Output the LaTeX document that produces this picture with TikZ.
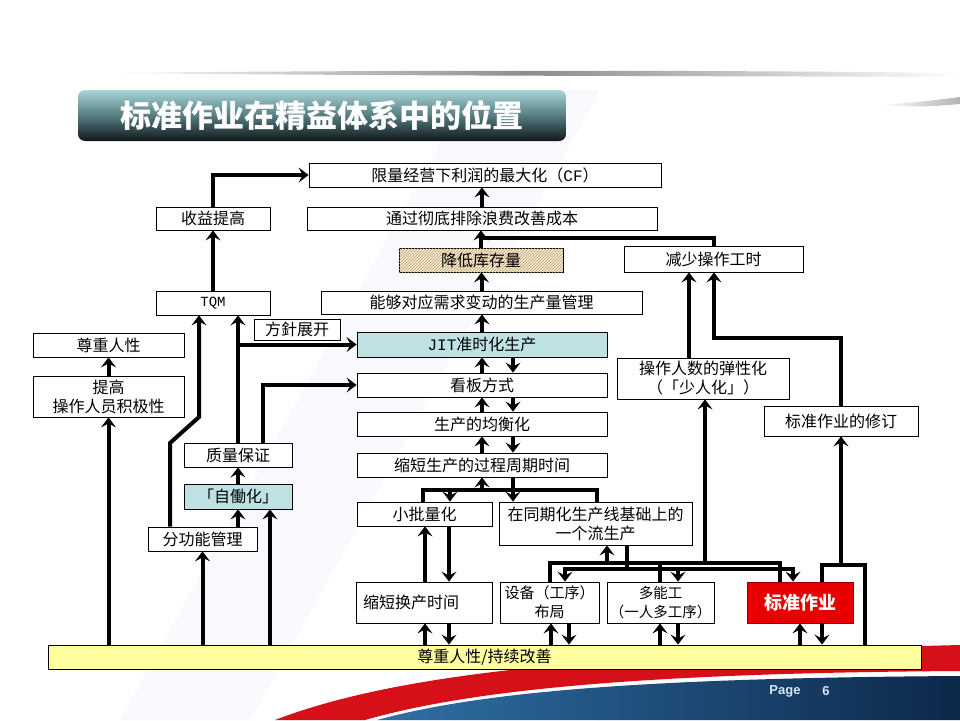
\documentclass[tikz,border=0pt]{standalone}
\usepackage{fontspec}
\setmainfont{Noto Sans CJK SC}
\newfontfamily\latinmono{Liberation Mono}
\newfontfamily\pagefont{Liberation Sans}
\usepackage{xcolor}
\usetikzlibrary{arrows.meta,patterns}
\definecolor{jitblue}{RGB}{190,226,228}
\definecolor{stockbg}{RGB}{246,236,212}
\definecolor{stockline}{RGB}{185,155,105}
\definecolor{stdred}{RGB}{232,0,0}
\definecolor{baseyellow}{RGB}{255,255,160}
\definecolor{titletop}{RGB}{168,214,218}
\definecolor{titlemid}{RGB}{86,124,128}
\definecolor{titlebot}{RGB}{16,24,26}
\definecolor{swooshred}{RGB}{214,16,24}
\definecolor{navyleft}{RGB}{48,112,166}
\definecolor{navyright}{RGB}{12,40,74}
\definecolor{pagefg}{RGB}{215,230,242}
\definecolor{bgtint}{RGB}{249,248,253}

\begin{document}
\begin{tikzpicture}[x=1pt, y=-1pt,
    box/.style={draw, rectangle, inner sep=0pt, line width=0.8pt, fill=white, align=center, font=\fontsize{16}{19}\selectfont},
    link/.style={line width=4pt},
    arr/.style={link, -{Stealth[length=10pt, width=15pt, inset=4pt]}}]
        % slide background
        \fill [white] (0, 0) rectangle (960, 720);
        \useasboundingbox (0, 0) rectangle (960, 720);
        \fill [bgtint] (120, 720) -- (250, 720) -- (600, 90) -- (470, 90) -- cycle;
        \shade [left color=white, right color=white, middle color=black!45] (100, 73) .. controls (400, 70) and (700, 70) .. (960, 73) -- (960, 77) .. controls (700, 76) and (400, 76) .. (100, 73) -- cycle;
        \shade [left color=white, right color=black!30] (880, 105) .. controls (920, 102) .. (960, 97) -- (960, 104) .. controls (925, 107) .. (880, 105) -- cycle;
        \fill [swooshred] (275, 720) .. controls (400, 672) and (600, 654) .. (960, 645) -- (960, 671) .. controls (640, 673) and (470, 690) .. (365, 720) -- cycle;
        \shade [left color=navyleft, right color=navyright] (377, 720) .. controls (480, 692) and (640, 678) .. (960, 676) -- (960, 720) -- cycle;
        \node (page) at (785, 691) [text=pagefg, font=\pagefont\bfseries\fontsize{13}{15}\selectfont] {Page};
        \node (pnum) at (826, 691) [text=pagefg, font=\pagefont\bfseries\fontsize{13}{15}\selectfont] {6};

        % title
        \node (title) at (322, 115.5) [rounded corners=7pt, top color=titletop, bottom color=titlebot, middle color=titlemid, minimum width=488pt, minimum height=51pt, text=white, font=\bfseries\fontsize{31}{34}\selectfont] {标准作业在精益体系中的位置};

        % boxes
        \node (profit) at (485, 175) [box, minimum width=352pt, minimum height=24pt] {限量经营下利润的最大化（{\latinmono CF}）};
        \node (gain) at (213, 218.5) [box, minimum width=114pt, minimum height=23pt] {收益提高};
        \node (cost) at (482, 218.5) [box, minimum width=350pt, minimum height=23pt] {通过彻底排除浪费改善成本};
        \node (stock) at (481, 260) [box, fill=stockbg, postaction={pattern=north east lines, pattern color=stockline}, minimum width=164pt, minimum height=24pt] {降低库存量};
        \node (hours) at (713.5, 259) [box, minimum width=179pt, minimum height=26pt] {减少操作工时};
        \node (tqm) at (213, 303) [box, minimum width=114pt, minimum height=24pt] {{\latinmono\fontsize{14}{16}\selectfont TQM}};
        \node (demand) at (481.5, 302.5) [box, minimum width=321pt, minimum height=23pt] {能够对应需求变动的生产量管理};
        \node (policy) at (297, 329.5) [box, minimum width=86pt, minimum height=21pt] {方針展开};
        \node (respect) at (108.5, 345) [box, minimum width=151pt, minimum height=24pt] {尊重人性};
        \node (jit) at (482, 344.5) [box, fill=jitblue, minimum width=250pt, minimum height=25pt] {{\latinmono JIT}准时化生产};
        \node (motivate) at (108.5, 396.5) [box, minimum width=151pt, minimum height=41pt] {提高\\操作人员积极性};
        \node (kanban) at (482, 385) [box, minimum width=250pt, minimum height=24pt] {看板方式};
        \node (flex) at (703, 378.5) [box, minimum width=172pt, minimum height=41pt] {操作人数的弹性化\\（「少人化」）};
        \node (level) at (482, 424) [box, minimum width=250pt, minimum height=24pt] {生产的均衡化};
        \node (revise) at (841, 421) [box, minimum width=154pt, minimum height=30pt] {标准作业的修订};
        \node (quality) at (238, 455) [box, minimum width=108pt, minimum height=24pt] {质量保证};
        \node (lead) at (482, 465) [box, minimum width=250pt, minimum height=24pt] {缩短生产的过程周期时间};
        \node (jido) at (238, 496.5) [box, fill=jitblue, minimum width=108pt, minimum height=25pt] {「自働化」};
        \node (lot) at (424.5, 514) [box, minimum width=135pt, minimum height=24pt] {小批量化};
        \node (flow) at (595.5, 523.5) [box, minimum width=193pt, minimum height=43pt] {在同期化生产线基础上的\\一个流生产};
        \node (func) at (202.5, 539) [box, minimum width=109pt, minimum height=24pt] {分功能管理};
        \node (change) at (424, 602.5) [box, minimum width=136pt, minimum height=41pt, text width=122pt, inner xsep=7pt, align=left] {缩短换产时间};
        \node (layout) at (549.5, 602.5) [box, minimum width=99pt, minimum height=41pt, font=\fontsize{15}{19}\selectfont] {设备（工序）\\布局};
        \node (multi) at (660.5, 602.5) [box, minimum width=107pt, minimum height=41pt, font=\fontsize{14.5}{19}\selectfont] {多能工\\（一人多工序）};
        \node (std) at (800, 602.5) [box, fill=stdred, draw=red!55!black, minimum width=106pt, minimum height=41pt, text=white, font=\bfseries\fontsize{18}{20}\selectfont] {标准作业};
        \node (base) at (484.5, 657) [box, fill=baseyellow, minimum width=873pt, minimum height=24pt] {尊重人性/持续改善};

        % upper part
        \draw [arr] (gain.north) |- (profit.west);
        \draw [arr] (cost.north) -- (cost.north |- profit.south);
        \coordinate (hoursjoin) at (482, 238);
        \draw [link] (hours.north) |- (hoursjoin);
        \draw [arr] (stock.north) -- (stock.north |- cost.south);
        \draw [arr] (demand.north) -- (demand.north |- stock.south);
        \draw [arr] (jit.north) -- (jit.north |- demand.south);
        \draw [arr] (tqm.north) -- (gain.south);

        % left part
        \coordinate (bendlow) at (170, 443);
        \coordinate (bendhigh) at (199, 417);
        \draw [arr] (func.north -| bendlow) -- (bendlow) -- (bendhigh) -- (bendhigh |- tqm.south);
        \draw [arr] (quality.north) -- (quality.north |- tqm.south);
        \draw [arr] (quality.north |- jit.west) -- (jit.west);
        \coordinate (qkanban) at (263, 455);
        \draw [arr] (quality.north -| qkanban) |- (kanban.west);
        \draw [arr] (jido.north) -- (quality.south);
        \draw [arr] (func.north -| jido.south) -- (jido.south);
        \coordinate (basejido) at (270, 600);
        \draw [arr] (base.north -| basejido) -- (jido.south -| basejido);
        \draw [arr] (base.north -| func.south) -- (func.south);
        \draw [arr] (base.north -| motivate.south) -- (motivate.south);
        \draw [arr] (motivate.north) -- (respect.south);

        % JIT column
        \coordinate (down) at (513, 0);
        \draw [arr] (kanban.north) -- (jit.south);
        \draw [arr] (jit.south -| down) -- (kanban.north -| down);
        \draw [arr] (level.north) -- (kanban.south);
        \draw [arr] (kanban.south -| down) -- (level.north -| down);
        \draw [arr] (lead.north) -- (level.south);
        \draw [arr] (level.south -| down) -- (lead.north -| down);
        \coordinate (splitl) at (423, 490);
        \coordinate (splitr) at (597, 490);
        \coordinate (splitd) at (450, 490);
        \draw [link] (lot.north -| splitl) -- (splitl) -- (splitr) -- (flow.north -| splitr);
        \draw [arr] (lead.south |- splitl) -- (lead.south);
        \draw [arr] (lead.south -| down) -- (flow.north -| down);
        \draw [arr] (splitd) -- (lot.north -| splitd);

        % bottom row
        \coordinate (upa) at (425, 560);
        \coordinate (dna) at (449, 560);
        \draw [arr] (change.north -| upa) -- (lot.south -| upa);
        \draw [arr] (lot.south -| dna) -- (change.north -| dna);
        \draw [arr] (base.north -| upa) -- (change.south -| upa);
        \draw [arr] (change.south -| dna) -- (base.north -| dna);
        \coordinate (upb) at (551, 635);
        \coordinate (dnb) at (569, 635);
        \draw [arr] (base.north -| upb) -- (layout.south -| upb);
        \draw [arr] (layout.south -| dnb) -- (base.north -| dnb);
        \coordinate (upc) at (660, 635);
        \coordinate (dnc) at (678, 635);
        \draw [arr] (base.north -| upc) -- (multi.south -| upc);
        \draw [arr] (multi.south -| dnc) -- (base.north -| dnc);
        \coordinate (upd) at (800, 635);
        \coordinate (dnd) at (822, 635);
        \draw [arr] (base.north -| upd) -- (std.south -| upd);
        \draw [arr] (std.south -| dnd) -- (base.north -| dnd);

        % buses under the one-piece flow
        \coordinate (busul) at (550, 563);
        \coordinate (busur) at (780, 563);
        \draw [link] (layout.north -| busul) -- (busul) -- (busur) -- (std.north -| busur);
        \draw [link] (multi.north -| upc) -- (busul -| upc);
        \coordinate (flowup) at (607, 563);
        \draw [arr] (flowup) -- (flow.south -| flowup);
        \coordinate (flexup) at (705, 563);
        \draw [arr] (flexup) -- (flex.south -| flexup);
        \coordinate (busll) at (565, 569);
        \coordinate (buslr) at (793, 569);
        \coordinate (flowdn) at (627, 569);
        \draw [link] (flow.south -| flowdn) -- (flowdn);
        \draw [arr] (flowdn) -- (busll) -- (layout.north -| busll);
        \draw [arr] (flowdn) -- (buslr) -- (std.north -| buslr);
        \draw [arr] (busll -| dnc) -- (multi.north -| dnc);

        % right part
        \coordinate (loopl) at (822, 565);
        \coordinate (loopr) at (865, 565);
        \draw [link] (std.north -| loopl) -- (loopl) -- (loopr) -- (base.north -| loopr);
        \draw [arr] (revise.south |- loopl) -- (revise.south);
        \coordinate (flexhours) at (689, 300);
        \draw [arr] (flex.north -| flexhours) -- (hours.south -| flexhours);
        \coordinate (revhours) at (714, 338);
        \draw [arr] (revise.north) |- (revhours) -- (revhours |- hours.south);
    \end{tikzpicture}
\end{document}
